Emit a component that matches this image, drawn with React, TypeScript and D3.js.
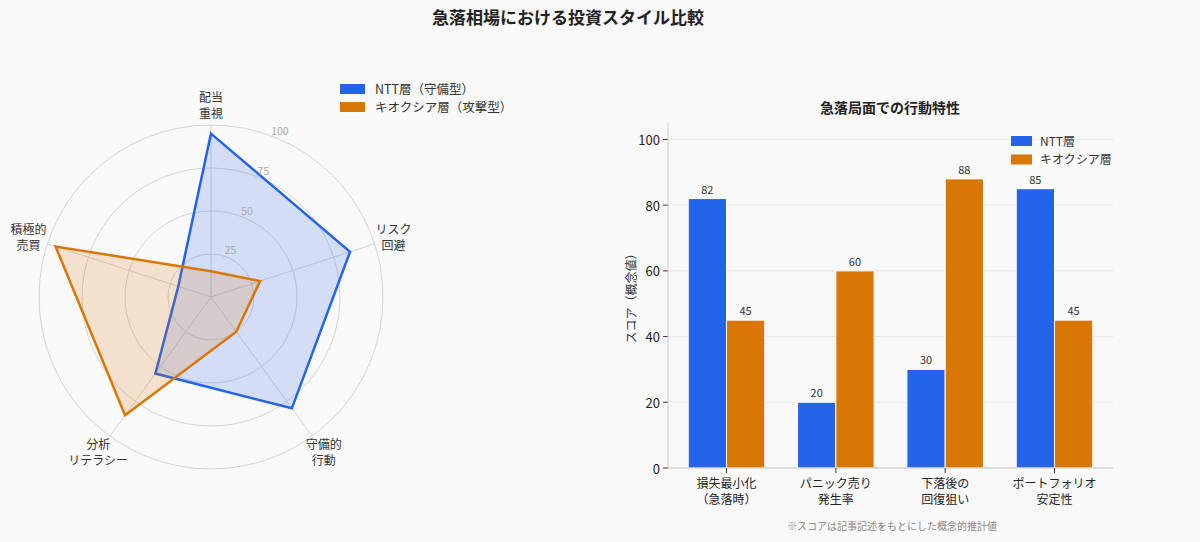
import React, { useEffect, useRef } from "react";
import * as d3 from "d3";

const WIDTH = 1200;
const HEIGHT = 542;
const FONT = "'Noto Sans CJK JP', 'Noto Sans', sans-serif";
const BLUE = "#2563eb";
const ORANGE = "#d97706";

// radar data
const radarAxes = ["配当\n重視", "リスク\n回避", "守備的\n行動", "分析\nリテラシー", "積極的\n売買"];
const ntt = [95, 85, 80, 55, 20];
const kioxia = [15, 30, 25, 85, 95];
const radarTicks = [25, 50, 75, 100];
const radarLegend = ["NTT層（守備型）", "キオクシア層（攻撃型）"];

// bar data
const barCategories = ["損失最小化\n（急落時）", "パニック売り\n発生率", "下落後の\n回復狙い", "ポートフォリオ\n安定性"];
const nttBars = [82, 20, 30, 85];
const kioxiaBars = [45, 60, 88, 45];
const barTicks = [0, 20, 40, 60, 80, 100];
const barLegend = ["NTT層", "キオクシア層"];

const RADAR = { cx: 211, cy: 297, r: 172 };
const BAR = { left: 668, right: 1113, top: 123, bottom: 468 };

export default function App() {
  const svgRef = useRef<SVGSVGElement>(null);

  useEffect(() => {
    document.body.style.margin = "0";
    const svg = d3.select(svgRef.current);
    svg.selectAll("*").remove();
    svg.append("rect").attr("width", WIDTH).attr("height", HEIGHT).attr("fill", "#f9f9f9");

    svg.append("text")
      .attr("x", 568).attr("y", 24)
      .attr("text-anchor", "middle")
      .attr("font-size", 17).attr("font-weight", "bold").attr("fill", "#222")
      .text("急落相場における投資スタイル比較");

    // ---------- radar ----------
    const rScale = d3.scaleLinear().domain([0, 100]).range([0, RADAR.r]);
    const angle = d3.scaleLinear().domain([0, radarAxes.length]).range([0, 2 * Math.PI]);
    const g = svg.append("g").attr("transform", `translate(${RADAR.cx},${RADAR.cy})`);

    radarTicks.forEach(t => {
      g.append("circle").attr("r", rScale(t)).attr("fill", "none")
        .attr("stroke", "#d4d4d4").attr("stroke-width", 1);
    });
    radarAxes.forEach((_, i) => {
      const a = angle(i);
      g.append("line")
        .attr("x1", 0).attr("y1", 0)
        .attr("x2", Math.sin(a) * rScale(100)).attr("y2", -Math.cos(a) * rScale(100))
        .attr("stroke", "#d4d4d4").attr("stroke-width", 1);
    });

    const radarLine = d3.lineRadial<number>()
      .angle((_, i) => angle(i))
      .radius(d => rScale(d))
      .curve(d3.curveLinearClosed);

    [[ntt, BLUE], [kioxia, ORANGE]].forEach(([vals, col]) => {
      g.append("path")
        .attr("d", radarLine(vals as number[]) as string)
        .attr("fill", col as string).attr("fill-opacity", 0.18)
        .attr("stroke", col as string).attr("stroke-width", 2.5)
        .attr("stroke-linejoin", "miter");
    });

    const la = (22.5 * Math.PI) / 180;
    radarTicks.forEach(t => {
      const rr = rScale(t) + 8;
      g.append("text")
        .attr("x", Math.sin(la) * rr).attr("y", -Math.cos(la) * rr)
        .attr("text-anchor", "middle").attr("dominant-baseline", "central")
        .attr("font-size", 10.5).attr("fill", "#aaa")
        .text(t);
    });

    radarAxes.forEach((lab, i) => {
      const a = angle(i);
      const rr = RADAR.r + 20;
      const lines = lab.split("\n");
      lines.forEach((ln, j) => {
        g.append("text")
          .attr("x", Math.sin(a) * rr)
          .attr("y", -Math.cos(a) * rr + (j - (lines.length - 1) / 2) * 16 + 4.5)
          .attr("text-anchor", "middle")
          .attr("font-size", 12).attr("fill", "#333")
          .text(ln);
      });
    });

    radarLegend.forEach((lab, i) => {
      const y = 89 + i * 18;
      svg.append("rect").attr("x", 340).attr("y", y - 5).attr("width", 25).attr("height", 10)
        .attr("fill", i === 0 ? BLUE : ORANGE);
      svg.append("text").attr("x", 375).attr("y", y + 4.5)
        .attr("font-size", 12.5).attr("fill", "#333").text(lab);
    });

    // ---------- bars ----------
    const x = d3.scaleLinear().domain([-0.535, 3.535]).range([BAR.left, BAR.right]);
    const y = d3.scaleLinear().domain([0, 105]).range([BAR.bottom, BAR.top]);
    const bw = x(0.35) - x(0);
    const bg = svg.append("g");

    barTicks.forEach(t => {
      bg.append("line").attr("x1", BAR.left).attr("x2", BAR.right)
        .attr("y1", y(t)).attr("y2", y(t)).attr("stroke", "#e6e6e6");
      bg.append("line").attr("x1", BAR.left - 5).attr("x2", BAR.left)
        .attr("y1", y(t)).attr("y2", y(t)).attr("stroke", "#333");
      bg.append("text").attr("x", BAR.left - 8).attr("y", y(t))
        .attr("text-anchor", "end").attr("dominant-baseline", "central")
        .attr("font-size", 13).attr("fill", "#222").text(t);
    });

    [[nttBars, BLUE, -1], [kioxiaBars, ORANGE, 0]].forEach(([vals, col, off]) => {
      (vals as number[]).forEach((v, i) => {
        const x0 = x(i + (off as number) * 0.35);
        bg.append("rect")
          .attr("x", x0).attr("y", y(v))
          .attr("width", bw).attr("height", y(0) - y(v))
          .attr("fill", col as string).attr("stroke", "#fff").attr("stroke-width", 1);
        bg.append("text")
          .attr("x", x0 + bw / 2).attr("y", y(v) - 5)
          .attr("text-anchor", "middle")
          .attr("font-size", 11).attr("fill", "#333").text(v);
      });
    });

    bg.append("line").attr("x1", BAR.left).attr("x2", BAR.left)
      .attr("y1", BAR.top).attr("y2", BAR.bottom).attr("stroke", "#ccc");
    bg.append("line").attr("x1", BAR.left).attr("x2", BAR.right)
      .attr("y1", BAR.bottom).attr("y2", BAR.bottom).attr("stroke", "#ccc");

    barCategories.forEach((lab, i) => {
      bg.append("line").attr("x1", x(i)).attr("x2", x(i))
        .attr("y1", BAR.bottom).attr("y2", BAR.bottom + 5).attr("stroke", "#333");
      lab.split("\n").forEach((ln, j) => {
        bg.append("text").attr("text-anchor", "middle")
          .attr("font-size", 12).attr("fill", "#222")
          .attr("x", x(i)).attr("y", BAR.bottom + 20 + j * 16).text(ln);
      });
    });

    bg.append("text")
      .attr("transform", `translate(636,${(BAR.top + BAR.bottom) / 2}) rotate(-90)`)
      .attr("text-anchor", "middle").attr("font-size", 12).attr("fill", "#333")
      .text("スコア（概念値）");

    bg.append("text").attr("x", 890).attr("y", 113)
      .attr("text-anchor", "middle").attr("font-size", 14).attr("font-weight", "bold")
      .attr("fill", "#222").text("急落局面での行動特性");

    barLegend.forEach((lab, i) => {
      const yy = 141 + i * 18.5;
      bg.append("rect").attr("x", 1011).attr("y", yy - 5).attr("width", 21).attr("height", 10)
        .attr("fill", i === 0 ? BLUE : ORANGE);
      bg.append("text").attr("x", 1040).attr("y", yy + 4.5)
        .attr("font-size", 12).attr("fill", "#333").text(lab);
    });

    bg.append("text").attr("x", 892).attr("y", 530)
      .attr("text-anchor", "middle").attr("font-size", 10).attr("fill", "#888")
      .text("※スコアは記事記述をもとにした概念的推計値");
  }, []);

  return (
    <svg ref={svgRef} width={WIDTH} height={HEIGHT}
      style={{ display: "block", fontFamily: FONT }} />
  );
}
